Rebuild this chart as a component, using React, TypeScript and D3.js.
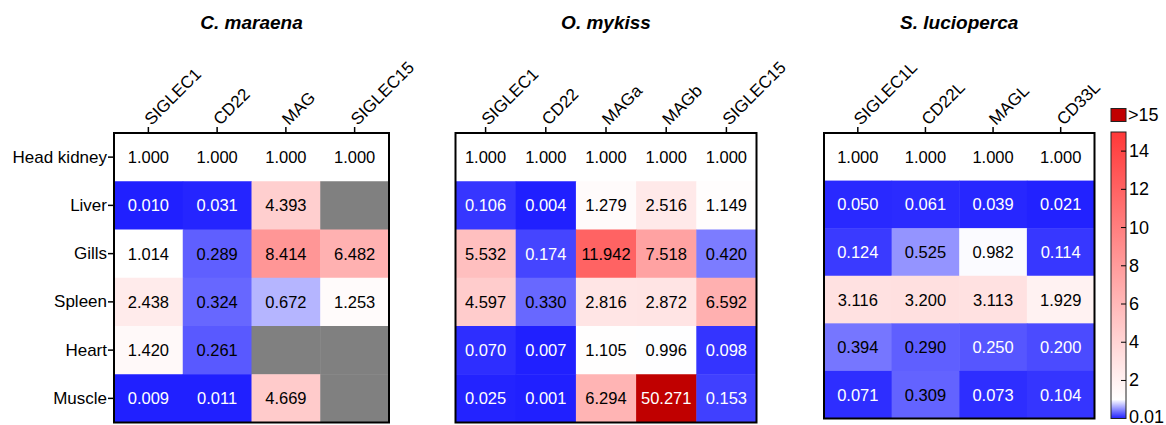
import { useMemo } from 'react';
import * as d3 from 'd3';

const tissues = ['Head kidney', 'Liver', 'Gills', 'Spleen', 'Heart', 'Muscle'];

// C. maraena (null = not detected, grey)
const maraenaGenes = ['SIGLEC1', 'CD22', 'MAG', 'SIGLEC15'];
const maraenaValues: (number | null)[][] = [
  [1.0, 1.0, 1.0, 1.0],
  [0.01, 0.031, 4.393, null],
  [1.014, 0.289, 8.414, 6.482],
  [2.438, 0.324, 0.672, 1.253],
  [1.42, 0.261, null, null],
  [0.009, 0.011, 4.669, null],
];

// O. mykiss
const mykissGenes = ['SIGLEC1', 'CD22', 'MAGa', 'MAGb', 'SIGLEC15'];
const mykissValues: (number | null)[][] = [
  [1.0, 1.0, 1.0, 1.0, 1.0],
  [0.106, 0.004, 1.279, 2.516, 1.149],
  [5.532, 0.174, 11.942, 7.518, 0.42],
  [4.597, 0.33, 2.816, 2.872, 6.592],
  [0.07, 0.007, 1.105, 0.996, 0.098],
  [0.025, 0.001, 6.294, 50.271, 0.153],
];

// S. lucioperca
const luciopercaGenes = ['SIGLEC1L', 'CD22L', 'MAGL', 'CD33L'];
const luciopercaValues: (number | null)[][] = [
  [1.0, 1.0, 1.0, 1.0],
  [0.05, 0.061, 0.039, 0.021],
  [0.124, 0.525, 0.982, 0.114],
  [3.116, 3.2, 3.113, 1.929],
  [0.394, 0.29, 0.25, 0.2],
  [0.071, 0.309, 0.073, 0.104],
];

const colorbarTicks = [0.01, 2, 4, 6, 8, 10, 12, 14];

const FONT = '"Liberation Sans", Arial, sans-serif';

const colorScale = d3.scaleLinear<string>()
  .domain([0.01, 1, 15])
  .range(['#2020ff', '#ffffff', '#ff3838'])
  .clamp(true);

const cellColor = (v: number | null) => {
  if (v === null) return '#808080';
  if (v > 15) return '#c00000';
  return colorScale(v);
};

const textColor = (v: number) => (v < 0.255 || v > 15 ? '#ffffff' : '#000000');

type PanelProps = {
  title: string;
  genes: string[];
  values: (number | null)[][];
  box: { left: number; right: number; top: number; bottom: number };
  rowLabels?: boolean;
};

const Panel = ({ title, genes, values, box, rowLabels }: PanelProps) => {
  const xScale = useMemo(() => d3.scaleBand<string>()
    .domain(genes)
    .range([box.left, box.right]), [genes, box]);
  const yScale = useMemo(() => d3.scaleBand<string>()
    .domain(tissues)
    .range([box.top, box.bottom]), [box]);

  return (
    <g>
      <text
        x={(box.left + box.right) / 2}
        y={29}
        textAnchor="middle"
        fontSize={19}
        fontWeight="bold"
        fontStyle="italic"
        fontFamily={FONT}
      >{title}</text>

      {values.map((row, r) => row.map((v, c) => (
        <g key={`${r}-${c}`}>
          <rect
            x={xScale(genes[c])}
            y={yScale(tissues[r])}
            width={xScale.bandwidth() + 0.5}
            height={yScale.bandwidth() + 0.5}
            fill={cellColor(v)}
          />
          {v !== null && (
            <text
              x={xScale(genes[c])! + xScale.bandwidth() / 2}
              y={yScale(tissues[r])! + yScale.bandwidth() / 2}
              textAnchor="middle"
              dominantBaseline="central"
              fontSize={16.5}
              fontFamily={FONT}
              fill={textColor(v)}
            >{d3.format('.3f')(v)}</text>
          )}
        </g>
      )))}

      <rect
        x={box.left}
        y={box.top}
        width={box.right - box.left}
        height={box.bottom - box.top}
        fill="none"
        stroke="#000"
        strokeWidth={2}
      />

      {/* column axis on top */}
      {genes.map(g => {
        const cx = xScale(g)! + xScale.bandwidth() / 2;
        return (
          <g key={g}>
            <line x1={cx} x2={cx} y1={box.top} y2={box.top - 6} stroke="#000" strokeWidth={1.5} />
            <text
              transform={`translate(${cx + 3}, ${box.top - 7}) rotate(-45)`}
              fontSize={17}
              fontFamily={FONT}
            >{g}</text>
          </g>
        );
      })}

      {rowLabels && tissues.map(t => {
        const cy = yScale(t)! + yScale.bandwidth() / 2;
        return (
          <g key={t}>
            <line x1={box.left} x2={box.left - 6} y1={cy} y2={cy} stroke="#000" strokeWidth={1.5} />
            <text
              x={box.left - 7}
              y={cy}
              textAnchor="end"
              dominantBaseline="central"
              fontSize={17}
              fontFamily={FONT}
            >{t}</text>
          </g>
        );
      })}
    </g>
  );
};

const ColorBar = () => {
  const left = 1111;
  const width = 15;
  const top = 132;
  const bottom = 418.5;

  const yScale = d3.scaleLinear().domain([0.01, 15]).range([bottom, top]);
  const stops = colorScale.domain().map(d => ({
    offset: (bottom - yScale(d)) / (bottom - top),
    color: colorScale(d),
  }));

  return (
    <g>
      <defs>
        <linearGradient id="cbar" x1="0" y1="1" x2="0" y2="0">
          {stops.map((s, i) => (
            <stop key={i} offset={s.offset} stopColor={s.color} />
          ))}
        </linearGradient>
      </defs>

      {/* >15 swatch */}
      <rect x={left} y={108.5} width={width} height={13} fill="#c00000" stroke="#222" strokeWidth={1} />
      <text x={left + width + 2} y={115} dominantBaseline="central" fontSize={18} fontFamily={FONT}>&gt;15</text>

      <rect x={left} y={top} width={width} height={bottom - top} fill="url(#cbar)" stroke="#222" strokeWidth={1} />

      {colorbarTicks.map(t => (
        <g key={t}>
          {t !== 0.01 && (
            <line x1={left + width - 5} x2={left + width} y1={yScale(t)} y2={yScale(t)} stroke="#000" strokeWidth={1} />
          )}
          <text
            x={left + width + 3}
            y={t === 0.01 ? 416.5 : yScale(t)}
            dominantBaseline="central"
            fontSize={18}
            fontFamily={FONT}
          >{t === 0.01 ? '0.01' : t}</text>
        </g>
      ))}
    </g>
  );
};

const maraenaBox = { left: 114, right: 389, top: 133, bottom: 422.5 };
const mykissBox = { left: 455.5, right: 756.5, top: 133, bottom: 422.5 };
const luciopercaBox = { left: 824, right: 1094.5, top: 133, bottom: 418.5 };

export default function App() {
  return (
    <svg
      width={1166}
      height={425}
      style={{ position: 'absolute', left: 0, top: 0, display: 'block', background: '#fff' }}
    >
      <Panel title="C. maraena" genes={maraenaGenes} values={maraenaValues} box={maraenaBox} rowLabels />
      <Panel title="O. mykiss" genes={mykissGenes} values={mykissValues} box={mykissBox} />
      <Panel title="S. lucioperca" genes={luciopercaGenes} values={luciopercaValues} box={luciopercaBox} />
      <ColorBar />
    </svg>
  );
}
